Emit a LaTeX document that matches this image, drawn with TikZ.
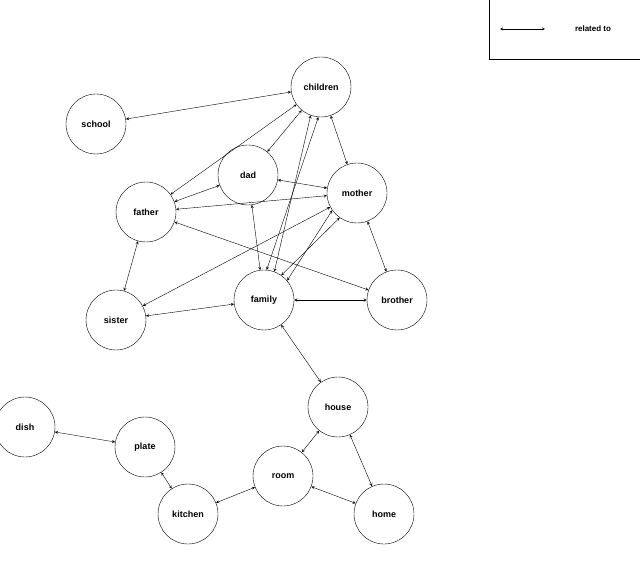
\documentclass[tikz,border=0pt]{standalone}
\usepackage{fontspec}
\setmainfont{Liberation Sans}
\begin{document}
\begin{tikzpicture}[x=1pt,y=-1pt,
  n/.style={circle,draw,minimum size=60pt,inner sep=0pt,font=\bfseries\fontsize{9}{10}\selectfont},
  e/.style={<->,>=stealth,thin}]
\useasboundingbox (0,0) rectangle (640,569);
\node[n] (children) at (321,87) {children};
\node[n] (school) at (96,124) {school};
\node[n] (dad) at (248,175) {dad};
\node[n] (mother) at (357,193) {mother};
\node[n] (father) at (146,212) {father};
\node[n] (sister) at (116,320) {sister};
\node[n] (family) at (264,300) {family};
\node[n] (brother) at (397,300) {brother};
\node[n] (house) at (338,407) {house};
\node[n] (dish) at (25,427) {dish};
\node[n] (plate) at (145,447) {plate};
\node[n] (room) at (283,476) {room};
\node[n] (kitchen) at (188,514) {kitchen};
\node[n] (home) at (384,514) {home};
\node[draw,minimum width=151pt,minimum height=60pt] (leg) at (565,29) {};
\coordinate (la) at (500,29); \coordinate (lb) at (545,29);
\draw[e] (la) -- (lb);
\node[font=\bfseries\fontsize{8}{10}\selectfont] (lt) at (593,29) {related to};
\draw[e] (school) -- (children);
\draw[e] (children) -- (dad);
\draw[e] (children) -- (father);
\draw[e] (children) -- (mother);
\draw[e] (children.250) -- (family.70);
\draw[e] (children.265) -- (family.85);
\draw[e] (dad) -- (father);
\draw[e] (dad) -- (mother);
\draw[e] (dad) -- (family);
\draw[e] (father) -- (mother);
\draw[e] (father) -- (brother);
\draw[e] (father) -- (sister);
\draw[e] (mother.215) -- (family.40);
\draw[e] (mother.235) -- (family.55);
\draw[e] (mother) -- (sister);
\draw[e] (mother) -- (brother);
\draw[e] (family) -- (brother);
\draw[e] (family) -- (sister);
\draw[e] (family) -- (house);
\draw[e] (house) -- (room);
\draw[e] (house) -- (home);
\draw[e] (room) -- (kitchen);
\draw[e] (room) -- (home);
\draw[e] (kitchen) -- (plate);
\draw[e] (plate) -- (dish);
\end{tikzpicture}
\end{document}
